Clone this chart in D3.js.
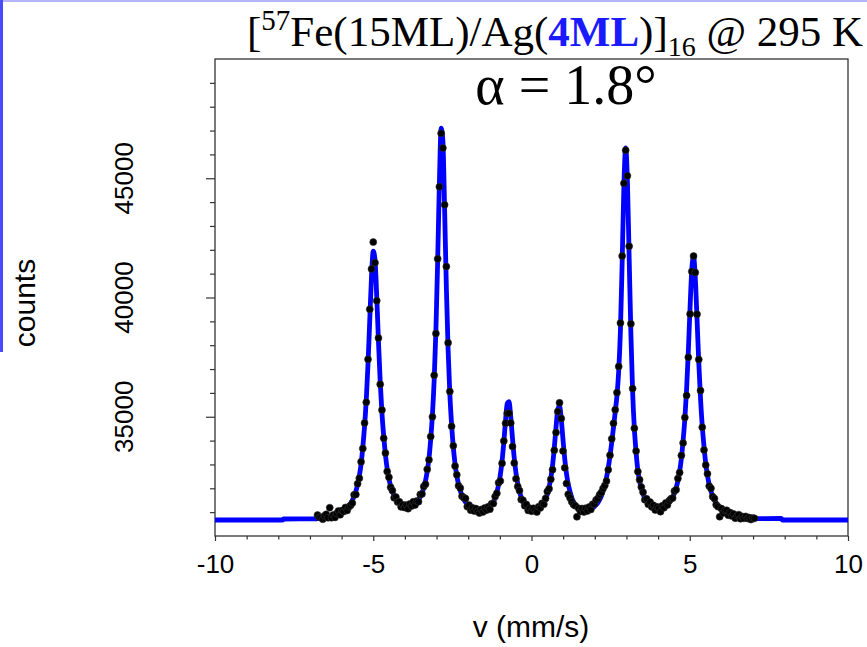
<!DOCTYPE html>
<html><head><meta charset="utf-8">
<script src="https://cdn.jsdelivr.net/npm/d3@7"></script>
<style>body{margin:0;background:#fff}svg{display:block}</style>
</head><body>
<svg id="c" width="867" height="647"></svg>
<script>
// ---------- data ----------
const xTicks = [-10, -5, 0, 5, 10];
const xTickLabels = ["-10", "-5", "0", "5", "10"];
const yTicks = [35000, 40000, 45000];
const yTickLabels = ["35000", "40000", "45000"];

const channelVelocity = [
-6.760,-6.705,-6.650,-6.595,-6.540,-6.485,-6.430,-6.375,-6.320,-6.265,
-6.210,-6.155,-6.100,-6.045,-5.990,-5.935,-5.880,-5.825,-5.770,-5.715,
-5.660,-5.605,-5.550,-5.495,-5.440,-5.385,-5.330,-5.275,-5.220,-5.165,
-5.110,-5.055,-5.000,-4.945,-4.890,-4.835,-4.780,-4.725,-4.670,-4.615,
-4.560,-4.505,-4.450,-4.395,-4.340,-4.285,-4.230,-4.175,-4.120,-4.065,
-4.010,-3.955,-3.900,-3.845,-3.790,-3.735,-3.680,-3.625,-3.570,-3.515,
-3.460,-3.405,-3.350,-3.295,-3.240,-3.185,-3.130,-3.075,-3.020,-2.965,
-2.910,-2.855,-2.800,-2.745,-2.690,-2.635,-2.580,-2.525,-2.470,-2.415,
-2.360,-2.305,-2.250,-2.195,-2.140,-2.085,-2.030,-1.975,-1.920,-1.865,
-1.810,-1.755,-1.700,-1.645,-1.590,-1.535,-1.480,-1.425,-1.370,-1.315,
-1.260,-1.205,-1.150,-1.095,-1.040,-0.985,-0.930,-0.875,-0.820,-0.765,
-0.710,-0.655,-0.600,-0.545,-0.490,-0.435,-0.380,-0.325,-0.270,-0.215,
-0.160,-0.105,-0.050,0.005,0.060,0.115,0.170,0.225,0.280,0.335,
0.390,0.445,0.500,0.555,0.610,0.665,0.720,0.775,0.830,0.885,
0.940,0.995,1.050,1.105,1.160,1.215,1.270,1.325,1.380,1.435,
1.490,1.545,1.600,1.655,1.710,1.765,1.820,1.875,1.930,1.985,
2.040,2.095,2.150,2.205,2.260,2.315,2.370,2.425,2.480,2.535,
2.590,2.645,2.700,2.755,2.810,2.865,2.920,2.975,3.030,3.085,
3.140,3.195,3.250,3.305,3.360,3.415,3.470,3.525,3.580,3.635,
3.690,3.745,3.800,3.855,3.910,3.965,4.020,4.075,4.130,4.185,
4.240,4.295,4.350,4.405,4.460,4.515,4.570,4.625,4.680,4.735,
4.790,4.845,4.900,4.955,5.010,5.065,5.120,5.175,5.230,5.285,
5.340,5.395,5.450,5.505,5.560,5.615,5.670,5.725,5.780,5.835,
5.890,5.945,6.000,6.055,6.110,6.165,6.220,6.275,6.330,6.385,
6.440,6.495,6.550,6.605,6.660,6.715,6.770,6.825,6.880,6.935,
6.990,7.045];

const measuredCounts = [
30877,30789,30769,30707,30849,30909,30763,31189,30766,30885,
30779,30944,31053,30887,31065,31025,31197,31072,31221,31288,
31381,31728,31739,32191,32426,33113,33667,34740,35609,37407,
39507,41197,42323,41459,39867,38302,36360,35287,34102,33478,
32704,32464,32046,31905,31600,31634,31423,31435,31217,31307,
31192,31297,31146,31344,31257,31437,31301,31465,31439,31744,
31766,32079,32173,32796,33196,34168,34996,36742,38488,41621,
44646,46883,46268,43887,41300,38100,36063,34599,33779,32930,
32565,32105,32010,31668,31609,31577,31230,31295,31083,31180,
31045,31149,31032,30962,31113,31006,31174,31081,31225,31123,
31355,31362,31655,31789,32235,32311,33046,33988,34728,35146,
35150,34741,33749,33062,32403,32078,31903,31529,31499,31270,
31325,31072,31161,31036,31161,31068,31003,31228,31180,31373,
31329,31577,31870,31985,32375,32782,33591,34339,35217,35584,
34929,33563,32859,32202,31749,31607,31438,31325,31269,30804,
31163,31031,31153,31008,31166,31051,31218,31113,31332,31344,
31507,31573,31732,31824,31993,32113,32301,32775,33390,34073,
34724,35297,36012,37111,38932,41742,44787,46175,45100,42150,
38900,36180,34520,33560,32700,32360,32052,31836,31520,31563,
31329,31425,31216,31287,31087,31224,31162,31021,31267,31185,
31387,31300,31483,31560,31590,31882,31943,32414,32659,33378,
33899,34971,35896,37495,39307,41093,41736,41050,39301,37403,
36097,34560,33607,32977,32607,32093,32001,31648,31573,31309,
31231,30810,31150,30962,31065,31078,30873,30985,30838,30926,
30748,30849,30895,30722,30820,30740,30822,30733,30774,30688,
30755,30739];

const fitCounts = [
30742,30749,30759,30767,30779,30789,30803,30819,30836,30855,
30879,30904,30933,30967,31005,31055,31107,31182,31261,31368,
31501,31668,31879,32151,32516,33003,33727,34590,35729,37227,
39067,40877,41943,41589,40047,38152,36470,35157,34192,33408,
32824,32404,32096,31865,31690,31554,31453,31375,31327,31287,
31262,31247,31246,31254,31277,31307,31361,31425,31519,31644,
31806,32019,32303,32706,33246,34048,35086,36542,38638,41521,
44826,47103,46568,43687,40421,37819,35963,34679,33719,33020,
32525,32165,31900,31698,31539,31417,31320,31255,31193,31150,
31115,31089,31072,31062,31063,31066,31084,31111,31155,31213,
31315,31432,31595,31829,32145,32561,33146,33928,34848,35566,
35630,34991,34079,33262,32643,32198,31873,31619,31449,31330,
31245,31182,31141,31116,31101,31108,31123,31158,31210,31283,
31389,31537,31750,32045,32425,32962,33691,34559,35297,35454,
34909,34043,33239,32622,32179,31873,31618,31445,31329,31244,
31183,31141,31113,31098,31096,31101,31118,31143,31182,31234,
31307,31393,31512,31664,31873,32133,32451,32855,33350,33923,
34544,35197,35882,36911,38632,41500,44700,46275,44900,41700,
38500,36050,34500,33500,32750,32306,31992,31766,31600,31473,
31379,31305,31256,31217,31197,31184,31182,31191,31207,31235,
31277,31330,31403,31500,31630,31792,32013,32304,32699,33248,
33999,34911,36146,37745,39587,41173,41716,40830,39101,37283,
35767,34616,33757,33037,32527,32153,31881,31668,31503,31369,
31261,31180,31110,31052,31005,30968,30933,30905,30878,30856,
30838,30819,30805,30792,30780,30770,30762,30753,30744,30738,
30735,30729];

// fit line outside the measured range
const fitLeftVelocity = [-10, -7.86, -7.84, -6.80];
const fitLeftCounts = [30671, 30671, 30713, 30722];
const fitRightVelocity = [7.90, 7.92, 10];
const fitRightCounts = [30738, 30671, 30671];

// ---------- drawing ----------
const svg = d3.select('#c');
svg.append('rect').attr('width', 867).attr('height', 647).attr('fill', '#fff');
// screenshot selection edges
svg.append('rect').attr('x', 0).attr('y', 0).attr('width', 867).attr('height', 2).attr('fill', '#b4b4ff');
svg.append('rect').attr('x', 0).attr('y', 0).attr('width', 3).attr('height', 352).attr('fill', '#4a4aff');

const x = d3.scaleLinear().domain([-10, 10]).range([215, 848]);
const y = d3.scaleLinear().domain([30000, 50000]).range([536, 59]);

const axisColor = '#333';
const sans = 'Liberation Sans, Arial, sans-serif';
const serif = 'Liberation Serif, Times New Roman, serif';

// y axis ticks
const yMinorTicks = d3.range(31000, 50000, 1000).filter(v => !yTicks.includes(v));
function styleAxis(g) {
  g.select('.domain').remove();
  g.selectAll('line').attr('stroke', axisColor).attr('stroke-width', 1.2);
}
svg.append('g').attr('transform', `translate(${x(-10)},0)`)
  .call(d3.axisLeft(y).tickValues(yMinorTicks).tickSize(5).tickFormat(''))
  .call(styleAxis);
svg.append('g').attr('transform', `translate(${x(-10)},0)`)
  .call(d3.axisLeft(y).tickValues(yTicks).tickSize(9).tickFormat(''))
  .call(styleAxis);
svg.append('g').selectAll('text').data(yTicks).join('text')
  .attr('transform', d => `translate(133,${y(d)}) rotate(-90)`)
  .attr('text-anchor', 'middle')
  .attr('font-family', sans).attr('font-size', 26).attr('fill', '#000')
  .text((d, i) => yTickLabels[i]);

// x axis ticks
const xMinorTicks = d3.range(-9, 10, 1).filter(v => !xTicks.includes(v));
svg.append('g').attr('transform', `translate(0,${y(30000)})`)
  .call(d3.axisBottom(x).tickValues(xMinorTicks).tickSize(3.5).tickFormat(''))
  .call(styleAxis);
const xg = svg.append('g').attr('transform', `translate(0,${y(30000)})`)
  .call(d3.axisBottom(x).tickValues(xTicks).tickSize(5).tickPadding(14)
    .tickFormat((d, i) => xTickLabels[i]))
  .call(styleAxis);
xg.selectAll('text').attr('font-family', sans).attr('font-size', 26).attr('fill', '#000');

// frame
svg.append('rect')
  .attr('x', x(-10)).attr('y', y(50000))
  .attr('width', x(10) - x(-10)).attr('height', y(30000) - y(50000))
  .attr('fill', 'none').attr('stroke', axisColor).attr('stroke-width', 1.3);

// fit curve
const fitVelocity = fitLeftVelocity.concat(channelVelocity, fitRightVelocity);
const fitAll = fitLeftCounts.concat(fitCounts, fitRightCounts);
const line = d3.line()
  .x((d, i) => x(fitVelocity[i]))
  .y(d => y(d))
  .curve(d3.curveMonotoneX);
svg.append('path').datum(fitAll)
  .attr('d', line)
  .attr('fill', 'none').attr('stroke', '#0000ff').attr('stroke-width', 4.8)
  .attr('stroke-linejoin', 'round').attr('stroke-linecap', 'butt');

// measured points
svg.append('g').selectAll('circle').data(measuredCounts).join('circle')
  .attr('cx', (d, i) => x(channelVelocity[i]))
  .attr('cy', d => y(d))
  .attr('r', 3.5)
  .attr('fill', '#000').attr('stroke', '#333').attr('stroke-width', 0.6);

// axis titles
svg.append('text').attr('transform', 'translate(35,303) rotate(-90)')
  .attr('text-anchor', 'middle').attr('font-family', sans).attr('font-size', 30)
  .attr('fill', '#000').text('counts');
svg.append('text').attr('x', 531).attr('y', 637)
  .attr('text-anchor', 'middle').attr('font-family', sans).attr('font-size', 30)
  .attr('fill', '#000').text('v (mm/s)');

// title
const title = svg.append('text').attr('x', 247).attr('y', 46)
  .attr('font-family', serif).attr('font-size', 43).attr('fill', '#000');
title.append('tspan').text('[');
title.append('tspan').attr('dy', -16).attr('font-size', 29).text('57');
title.append('tspan').attr('dy', 16).text('Fe(15ML)/Ag(');
title.append('tspan').attr('fill', '#1a1aff').attr('font-weight', 'bold').text('4ML');
title.append('tspan').text(')]');
title.append('tspan').attr('dy', 10).attr('font-size', 28).text('16');
title.append('tspan').attr('dy', -10).text(' @ 295 K');

svg.append('text').attr('x', 566).attr('y', 104)
  .attr('text-anchor', 'middle').attr('font-family', serif).attr('font-size', 56)
  .attr('fill', '#000').text('\u03B1 = 1.8\u00B0');
</script>
</body></html>
